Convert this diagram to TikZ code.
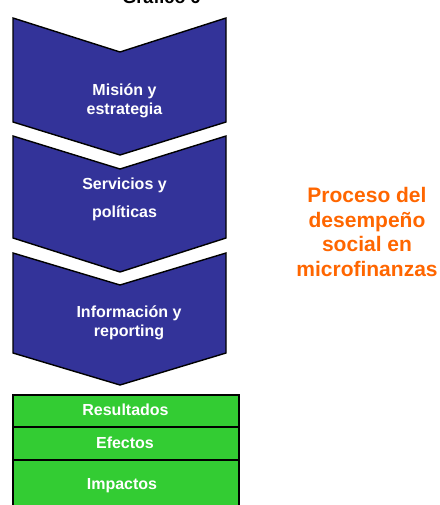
\documentclass[tikz,border=0pt]{standalone}
\usepackage{fontspec}
\setmainfont{Liberation Sans}

\definecolor{chevblue}{RGB}{51,51,153}
\definecolor{boxgreen}{RGB}{51,204,51}
\definecolor{procorange}{RGB}{255,102,0}

\tikzset{
    chevron/.style={fill=chevblue, draw=black, line width=1.4pt, line join=miter},
    greenbox/.style={fill=boxgreen, draw=black, line width=1.4pt},
    boxtext/.style={text=white, font=\fontsize{16}{19}\selectfont\bfseries, align=center, inner sep=0pt},
}

\begin{document}
\begin{tikzpicture}[x=1pt, y=-1pt]

\useasboundingbox (0, 0) rectangle (439, 505);

\node[anchor=base, font=\fontsize{18}{21}\selectfont\bfseries, inner sep=0pt] (titulo) at (161.5, 4) {Gráfico 6};

% chevrons: top, notch, bottom, point
\foreach \t/\n/\b/\p in {18/52/122/155, 136/169/238/272, 253/285/353/385}
{
    \draw[chevron] (13, \t) -- (120, \n) -- (226, \t) -- (226, \b) -- (120, \p) -- (13, \b) -- cycle;
}

\node[boxtext] (mision) at (124.5, 100.5) {Misión y\\estrategia};
\node[boxtext] (servicios) at (124.5, 199) {Servicios y\\[9pt]políticas};
\node[boxtext] (informacion) at (129, 322.5) {Información y\\reporting};

% resultados
\draw[greenbox] (13, 395) rectangle (239, 427);
\draw[greenbox] (13, 427) rectangle (239, 460);
\draw[greenbox] (13, 460) rectangle (239, 509);

\node[boxtext] (resultados) at (125.5, 410) {Resultados};
\node[boxtext] (efectos) at (125, 443) {Efectos};
\node[boxtext] (impactos) at (122, 486) {Impactos};

\node[text=procorange, font=\fontsize{21}{24.5}\selectfont\bfseries, align=center, inner sep=0pt] (proceso) at (367, 232) {Proceso del\\desempeño\\social en\\microfinanzas};

\end{tikzpicture}
\end{document}
